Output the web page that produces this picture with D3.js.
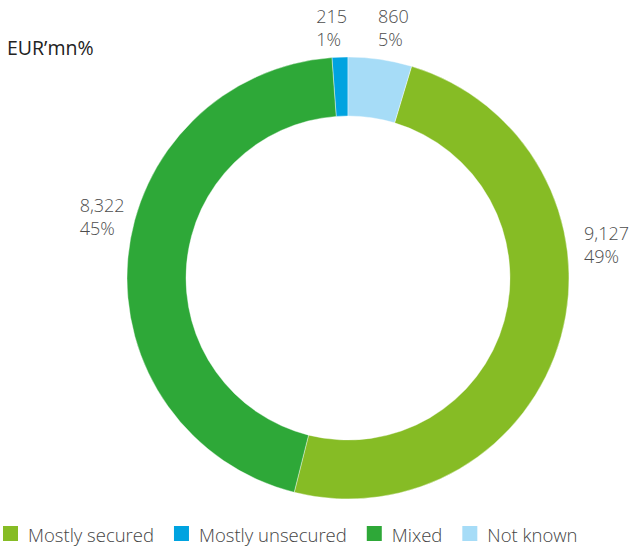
<!DOCTYPE html>
<html>
<head>
<meta charset="utf-8">
<script src="https://cdn.jsdelivr.net/npm/d3@7"></script>
<style>
  body { margin: 0; background: #fff; }
  svg { display: block; font-family: "Open Sans", sans-serif; }
</style>
</head>
<body>
<div id="chart"></div>
<script>
// data, in legend order
var categories = ["Mostly secured", "Mostly unsecured", "Mixed", "Not known"];
var amounts = [9127, 215, 8322, 860];
var amountLabels = ["9,127", "215", "8,322", "860"];
var shareLabels = ["49%", "1%", "45%", "5%"];
// order of the slices clockwise from 12 o'clock
var sliceOrder = ["Not known", "Mostly secured", "Mixed", "Mostly unsecured"];

var colors = ["#86bc25", "#00a3e0", "#2ea838", "#a6dcf7"];

var width = 633;
var height = 551;
var cx = 348;
var cy = 278;
var outerR = 221;
var innerR = 162;

var svg = d3.select("#chart").append("svg").attr("width", width).attr("height", height);

var rows = categories.map(function (c, i) {
  return { name: c, value: amounts[i], amount: amountLabels[i], share: shareLabels[i] };
});

var color = d3.scaleOrdinal().domain(categories).range(colors);

var pie = d3
  .pie()
  .value(function (d) {
    return d.value;
  })
  .sort(function (a, b) {
    return sliceOrder.indexOf(a.name) - sliceOrder.indexOf(b.name);
  });

var arc = d3.arc().innerRadius(innerR).outerRadius(outerR);

var g = svg.append("g").attr("transform", "translate(" + cx + "," + cy + ")");

var arcs = pie(rows);

g.selectAll("path")
  .data(arcs)
  .enter()
  .append("path")
  .attr("d", arc)
  .attr("fill", function (d) {
    return color(d.data.name);
  })
  .attr("stroke", "#fff")
  .attr("stroke-width", 0.4);

// label placement: angle (deg, clockwise from top), radius, which edge sits on the point
var labelPlace = {
  "Mostly unsecured": { angle: -0.2, radius: 255, align: "right" },
  "Not known": { angle: 6.7, radius: 257, align: "left" },
  "Mostly secured": { angle: 80.9, radius: 239, align: "left" },
  "Mixed": { angle: -73.5, radius: 233, align: "right" },
};

arcs.forEach(function (d) {
  var p = labelPlace[d.data.name];
  var a = (p.angle * Math.PI) / 180;
  var px = Math.sin(a) * p.radius;
  var py = -Math.cos(a) * p.radius;
  var lab = g.append("g").attr("class", "label");
  var t1 = lab.append("text").attr("x", 0).attr("y", 0).text(d.data.amount);
  var t2 = lab.append("text").attr("x", 0).attr("y", 23).text(d.data.share);
  lab.selectAll("text").style("font-size", "18px").style("fill", "#4d4d4d").style("font-weight", 300);
  var w = Math.max(t1.node().getComputedTextLength(), t2.node().getComputedTextLength());
  var x0 = p.align === "right" ? px - w : px;
  lab.attr("transform", "translate(" + x0 + "," + py + ")");
});

svg
  .append("text")
  .attr("x", 7)
  .attr("y", 55)
  .style("font-size", "19.5px")
  .style("fill", "#222")
  .text("EUR\u2019mn%");

// legend
var legend = svg.append("g").attr("class", "legend");
var lx = 3;
categories.forEach(function (c) {
  legend.append("rect").attr("x", lx).attr("y", 526).attr("width", 15).attr("height", 15).attr("fill", color(c));
  var t = legend
    .append("text")
    .attr("x", lx + 25)
    .attr("y", 542)
    .style("font-size", "18.5px")
    .style("fill", "#444")
    .style("font-weight", 300)
    .text(c);
  lx = lx + 25 + t.node().getComputedTextLength() + 20;
});
</script>
</body>
</html>
